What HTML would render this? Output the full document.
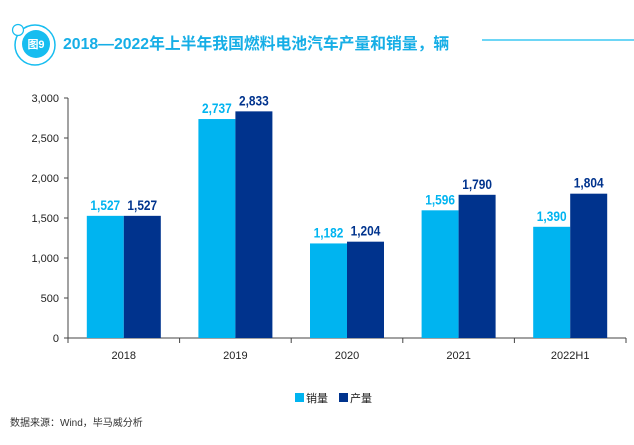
<!DOCTYPE html>
<html><head><meta charset="utf-8"><style>
body{margin:0;background:#fff;width:634px;height:440px;overflow:hidden;font-family:"Liberation Sans","Noto Sans CJK SC",sans-serif}
svg text{font-family:"Liberation Sans","Noto Sans CJK SC",sans-serif}
</style></head><body>
<svg width="634" height="440">
<g>
<circle cx="35" cy="45" r="20" fill="none" stroke="#16bdf0" stroke-width="1.5"/>
<circle cx="36" cy="44" r="14" fill="#16bdf0"/>
<circle cx="18" cy="30" r="5.5" fill="#fff" stroke="#16bdf0" stroke-width="1.2"/>
<text x="36" y="48" font-size="11" fill="#fff" text-anchor="middle" font-weight="bold">图9</text>
<text x="63" y="49" font-size="15.8" font-weight="bold" fill="#16aee6">2018—2022年上半年我国燃料电池汽车产量和销量，辆</text>
<line x1="482" y1="40" x2="634" y2="40" stroke="#16bdf0" stroke-width="1.2"/>
</g>
<g id="axes"></g>
<g id="bars"></g>
<g>
<rect x="295" y="393" width="9" height="9" fill="#00b4f0"/>
<text x="306" y="402" font-size="11" fill="#222">销量</text>
<rect x="339" y="393" width="9" height="9" fill="#00338d"/>
<text x="350" y="402" font-size="11" fill="#222">产量</text>
</g>
<text x="10" y="426" font-size="10" fill="#333">数据来源：Wind，毕马威分析</text>
</svg>
<script>
const categories=["2018","2019","2020","2021","2022H1"];
const sales=[1527,2737,1182,1596,1390];
const production=[1527,2833,1204,1790,1804];
const yTicks=[0,500,1000,1500,2000,2500,3000];
const NS="http://www.w3.org/2000/svg";
const x0=68,x1=626,y0=338,yTop=98,yMax=3000;
const bw=(x1-x0)/categories.length;
const y=v=>y0-(v/yMax)*(y0-yTop);
function mk(t,a,p){const e=document.createElementNS(NS,t);for(const k in a)e.setAttribute(k,a[k]);p.appendChild(e);return e;}
const ax=document.getElementById('axes'),bars=document.getElementById('bars');
const yl=mk('line',{x1:x0,y1:yTop,x2:x0,y2:y0,stroke:'#444'},ax);


yTicks.forEach(v=>{
 mk('line',{x1:x0-4,x2:x0,y1:y(v),y2:y(v),stroke:'#444'},ax);
 const t=mk('text',{x:x0-9,y:y(v)+4,'font-size':11,'text-anchor':'end',fill:'#222'},ax);t.textContent=v.toLocaleString('en-US');
 
 
});
const xl=mk('line',{x1:x0,y1:y0,x2:x1,y2:y0,stroke:'#444'},ax);


for(let i=0;i<=categories.length;i++)mk('line',{x1:x0+i*bw,x2:x0+i*bw,y1:y0,y2:y0+5,stroke:'#444'},ax);
categories.forEach((c,i)=>{
 const cx=x0+bw*(i+0.5);
 const t=mk('text',{x:cx,y:y0+21,'font-size':11,'text-anchor':'middle',fill:'#222'},ax);t.textContent=c;
 
 
 [[sales[i],'#00b4f0',cx-37,'sales'],[production[i],'#00338d',cx,'production']].forEach(([v,col,bx,n])=>{
  const r=mk('rect',{x:bx,y:y(v),width:37,height:y0-y(v),fill:col},bars);
  
  
  const l=mk('text',{x:bx+18.5,y:y(v)-6,'font-size':14,'font-weight':'bold','text-anchor':'middle',fill:col,transform:`translate(${bx+18.5},0) scale(0.85,1) translate(${-(bx+18.5)},0)`},bars);
  l.textContent=v.toLocaleString('en-US');
  
  
 });
});
</script>
</body></html>
